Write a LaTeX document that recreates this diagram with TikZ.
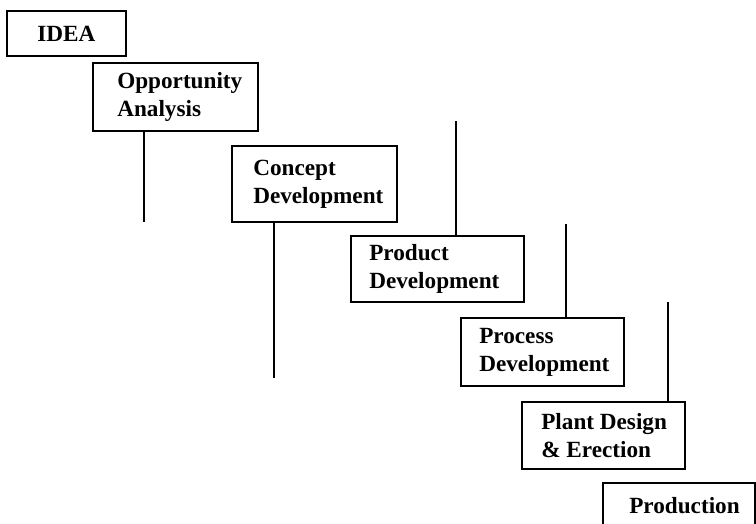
\documentclass[tikz,border=0pt]{standalone}
\usepackage{fontspec}
\setmainfont{Liberation Serif}
\begin{document}
\begin{tikzpicture}[x=0.75pt,y=-0.75pt,
  stagebox/.style={draw, line width=1.2pt, anchor=north west, inner sep=0pt, outer sep=0pt},
  caption/.style={anchor=west, align=left, inner sep=0pt,
    font=\fontsize{17.4}{21}\selectfont\bfseries},
  link/.style={line width=0.9pt}]
\useasboundingbox (0,0) rectangle (756,524);

% stage boxes (north-west corner, size in pt)
\node[stagebox, minimum width=89.25pt, minimum height=33.75pt] (idea) at (7,11) {};
\node[stagebox, minimum width=123.75pt, minimum height=51pt] (opp) at (93,63) {};
\node[stagebox, minimum width=123.75pt, minimum height=57pt] (concept) at (232,146) {};
\node[stagebox, minimum width=129.75pt, minimum height=49.5pt] (product) at (351,236) {};
\node[stagebox, minimum width=122.25pt, minimum height=51pt] (process) at (461,318) {};
\node[stagebox, minimum width=122.25pt, minimum height=50.25pt] (plant) at (522,402) {};
\node[stagebox, minimum width=114pt, minimum height=34.5pt] (production) at (603,483) {};

% stage titles
\node[caption] (idea-t) at ([xshift=22.5pt]idea.west) {IDEA};
\node[caption] (opp-t) at ([xshift=18pt]opp.west) {Opportunity\\Analysis};
\node[caption] (concept-t) at ([xshift=15.75pt]concept.west) {Concept\\Development};
\node[caption] (product-t) at ([xshift=13.5pt]product.west) {Product\\Development};
\node[caption] (process-t) at ([xshift=13.5pt]process.west) {Process\\Development};
\node[caption] (plant-t) at ([xshift=14.25pt]plant.west) {Plant Design\\\& Erection};
\node[caption] (production-t) at ([xshift=19.5pt]production.west) {Production};

% free ends of the vertical rules
\coordinate (opp-end) at (144,222);
\coordinate (concept-end) at (274,378);
\coordinate (product-end) at (456,121);
\coordinate (process-end) at (566,224);
\coordinate (plant-end) at (668,302);

\draw[link] (opp-end |- opp.south) -- (opp-end);
\draw[link] (concept-end |- concept.south) -- (concept-end);
\draw[link] (product-end |- product.north) -- (product-end);
\draw[link] (process-end |- process.north) -- (process-end);
\draw[link] (plant-end |- plant.north) -- (plant-end);
\end{tikzpicture}
\end{document}
